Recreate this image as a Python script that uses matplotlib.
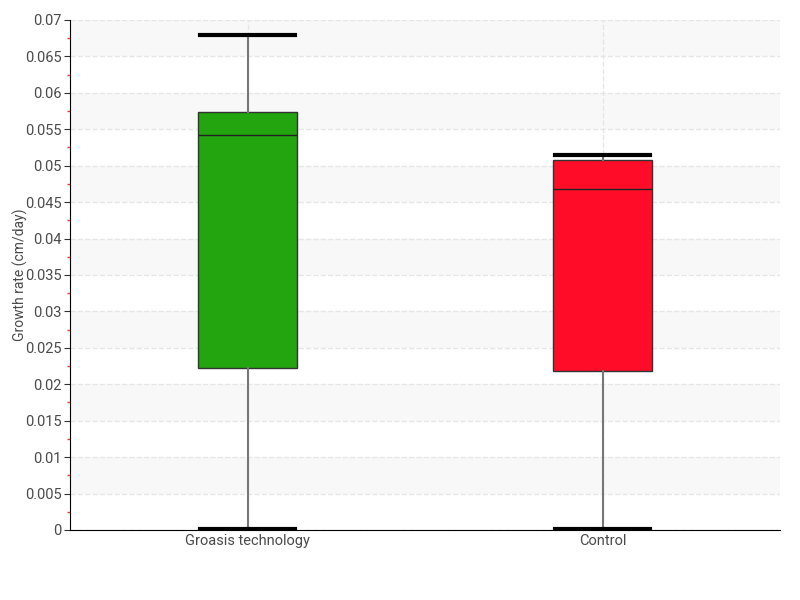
import numpy as np
import matplotlib.pyplot as plt
from matplotlib.ticker import MultipleLocator

categories = ["Groasis technology", "Control"]
whislo = [0.0001, 0.0001]
q1 = [0.0222, 0.0218]
med = [0.0542, 0.0468]
q3 = [0.0574, 0.0508]
whishi = [0.0679, 0.0515]
colors = ["#22a50e", "#ff0d28"]
yticks = np.arange(0, 0.0701, 0.005)
ytick_labels = ["0"] + [f"{v:.3f}".rstrip("0") for v in yticks[1:]]

plt.rcParams["font.family"] = ["Roboto", "DejaVu Sans"]
text_color = "#4a4a4a"

fig = plt.figure(figsize=(8, 6), dpi=100)
ax = fig.add_axes([0.0875, 0.1167, 0.8875, 0.85])

# alternating background bands
for lo in np.arange(0.005, 0.07, 0.01):
    ax.axhspan(lo, lo + 0.005, color="#f8f8f8", zorder=0, lw=0)

stats = []
for i, name in enumerate(categories):
    stats.append(dict(label=name, whislo=whislo[i], q1=q1[i], med=med[i],
                      q3=q3[i], whishi=whishi[i], fliers=[]))

bp = ax.bxp(stats, positions=range(len(categories)), widths=0.28,
            patch_artist=True, showfliers=False,
            boxprops=dict(edgecolor="#333333", linewidth=1),
            medianprops=dict(color="#222222", linewidth=1),
            whiskerprops=dict(color="#777777", linewidth=1.5),
            capprops=dict(color="black", linewidth=3),
            capwidths=0.27)
for patch, c in zip(bp["boxes"], colors):
    patch.set_facecolor(c)
for art in bp["whiskers"] + bp["caps"] + bp["boxes"] + bp["medians"]:
    art.set_zorder(3)

ax.set_xlim(-0.5, 1.5)
ax.set_ylim(0, 0.07)
ax.set_yticks(yticks)
ax.set_yticklabels(ytick_labels)
ax.yaxis.set_minor_locator(MultipleLocator(0.0025))

ax.grid(axis="y", which="major", color="#e6e6e6", linestyle="--", linewidth=1, zorder=1)
ax.grid(axis="x", color="#e6e6e6", linestyle="--", linewidth=1, zorder=1)
ax.set_axisbelow(True)

for side in ["top", "right"]:
    ax.spines[side].set_visible(False)
ax.spines["left"].set_color("black")
ax.spines["bottom"].set_color("black")

ax.tick_params(axis="y", which="major", length=4, color="#333333",
               labelcolor=text_color, labelsize=10.5, pad=2)
ax.tick_params(axis="y", which="minor", length=2, width=1, color="#ff3333")
ax.tick_params(axis="x", length=0, labelcolor=text_color, labelsize=10.5, pad=3)
ax.set_ylabel("Growth rate (cm/day)", color=text_color, fontsize=10)
ax.yaxis.set_label_coords(-0.059, 0.5)

fig.savefig("out.png", dpi=100)
